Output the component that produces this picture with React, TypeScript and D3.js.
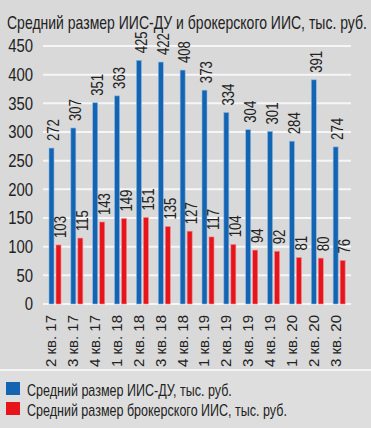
import React, { useRef, useEffect } from "react";
import * as d3 from "d3";

const categories = ["2 кв. 17", "3 кв. 17", "4 кв. 17", "1 кв. 18", "2 кв. 18", "3 кв. 18", "4 кв. 18", "1 кв. 19", "2 кв. 19", "3 кв. 19", "4 кв. 19", "1 кв. 20", "2 кв. 20", "3 кв. 20"];
const iisDu = [272, 307, 351, 363, 425, 422, 408, 373, 334, 304, 301, 284, 391, 274];
const iisBroker = [103, 115, 143, 149, 151, 135, 127, 117, 104, 94, 92, 81, 80, 76];
const yTicks = [0, 50, 100, 150, 200, 250, 300, 350, 400, 450];
const legendLabels = ["Средний размер ИИС-ДУ, тыс. руб.", "Средний размер брокерского ИИС, тыс. руб."];

const FONT = "'Liberation Sans', Arial, sans-serif";

// squeeze a horizontal text to a target width (fakes the condensed face)
const squeeze = (sel: d3.Selection<SVGTextElement, any, any, any>, x0: number, y0: number, w: number) => {
    const len = sel.node()!.getComputedTextLength();
    sel.attr("transform", `translate(${x0},${y0}) scale(${w / len},1)`);
};

export default function App() {
    const ref = useRef<SVGSVGElement>(null);

    useEffect(() => {
        if (!ref.current) return;
        const width = 371;
        const height = 428;
        const svg = d3.select(ref.current);
        svg.selectAll("*").remove();

        svg.append("rect").attr("width", width).attr("height", height).attr("fill", "#d9d9d9");
        svg.append("rect").attr("y", 371).attr("width", width).attr("height", height - 371).attr("fill", "#dedede");
        svg.append("line").attr("x1", 0).attr("x2", width).attr("y1", 370).attr("y2", 370)
            .attr("stroke", "#f4f4f4").attr("stroke-width", 2);

        const title = svg.append("text").attr("font-family", FONT).attr("font-size", 19)
            .attr("fill", "#222").text("Средний размер ИИС-ДУ и брокерского ИИС, тыс. руб.");
        squeeze(title, 7, 29, 360);

        const x = d3.scaleBand<string>().domain(categories).range([45, 351]);
        const y = d3.scaleLinear().domain([0, 450]).range([304, 46]);

        // grid
        svg.append("g").selectAll("line").data(yTicks).join("line")
            .attr("x1", 43).attr("x2", 351)
            .attr("y1", d => y(d)).attr("y2", d => y(d))
            .attr("stroke", "#f6f6f6").attr("stroke-width", 2);

        svg.append("g").selectAll("text").data(yTicks).join("text")
            .attr("transform", d => `translate(33,${y(d)}) scale(0.85,1)`)
            .attr("dy", "0.36em")
            .attr("text-anchor", "end").attr("font-family", FONT).attr("font-size", 17.5)
            .attr("fill", "#222").text(d => d);

        const series = [
            { values: iisDu, off: 4, fill: "#1464b4", stroke: "#8fb8e0" },
            { values: iisBroker, off: 11, fill: "#e8141c", stroke: "#f08a8e" },
        ];
        const bw = 5;

        series.forEach(s => {
            svg.append("g").selectAll("rect").data(s.values).join("rect")
                .attr("x", (d, i) => x(categories[i])! + s.off)
                .attr("y", d => y(d))
                .attr("width", bw)
                .attr("height", d => y(0) - y(d))
                .attr("fill", s.fill)
                .attr("stroke", s.stroke).attr("stroke-width", 0.6);

            svg.append("g").selectAll("text").data(s.values).join("text")
                .attr("transform", (d, i) => `translate(${x(categories[i])! + s.off + bw / 2 + 2},${y(d) - 7}) rotate(-90) scale(0.82,1)`)
                .attr("dy", "0.36em")
                .attr("font-family", FONT).attr("font-size", 16)
                .attr("fill", "#222").text(d => d);
        });

        svg.append("g").selectAll("text").data(categories).join("text")
            .attr("transform", d => `translate(${x(d)! + 6},315) rotate(-90)`)
            .attr("dy", "0.36em").attr("text-anchor", "end")
            .attr("font-family", FONT).attr("font-size", 15)
            .attr("fill", "#222").text(d => d);

        const colors = ["#1464b4", "#e8141c"];
        const lengths = [205, 260];
        legendLabels.forEach((label, i) => {
            const y0 = 382 + i * 20;
            svg.append("rect").attr("x", 6).attr("y", y0).attr("width", 14).attr("height", 13).attr("fill", colors[i]);
            const t = svg.append("text").attr("font-family", FONT).attr("font-size", 16)
                .attr("fill", "#222").text(label);
            squeeze(t, 27, y0 + 14, lengths[i]);
        });
    }, []);

    return <svg ref={ref} width={371} height={428} style={{ display: "block", position: "absolute", left: 0, top: 0 }} />;
}
